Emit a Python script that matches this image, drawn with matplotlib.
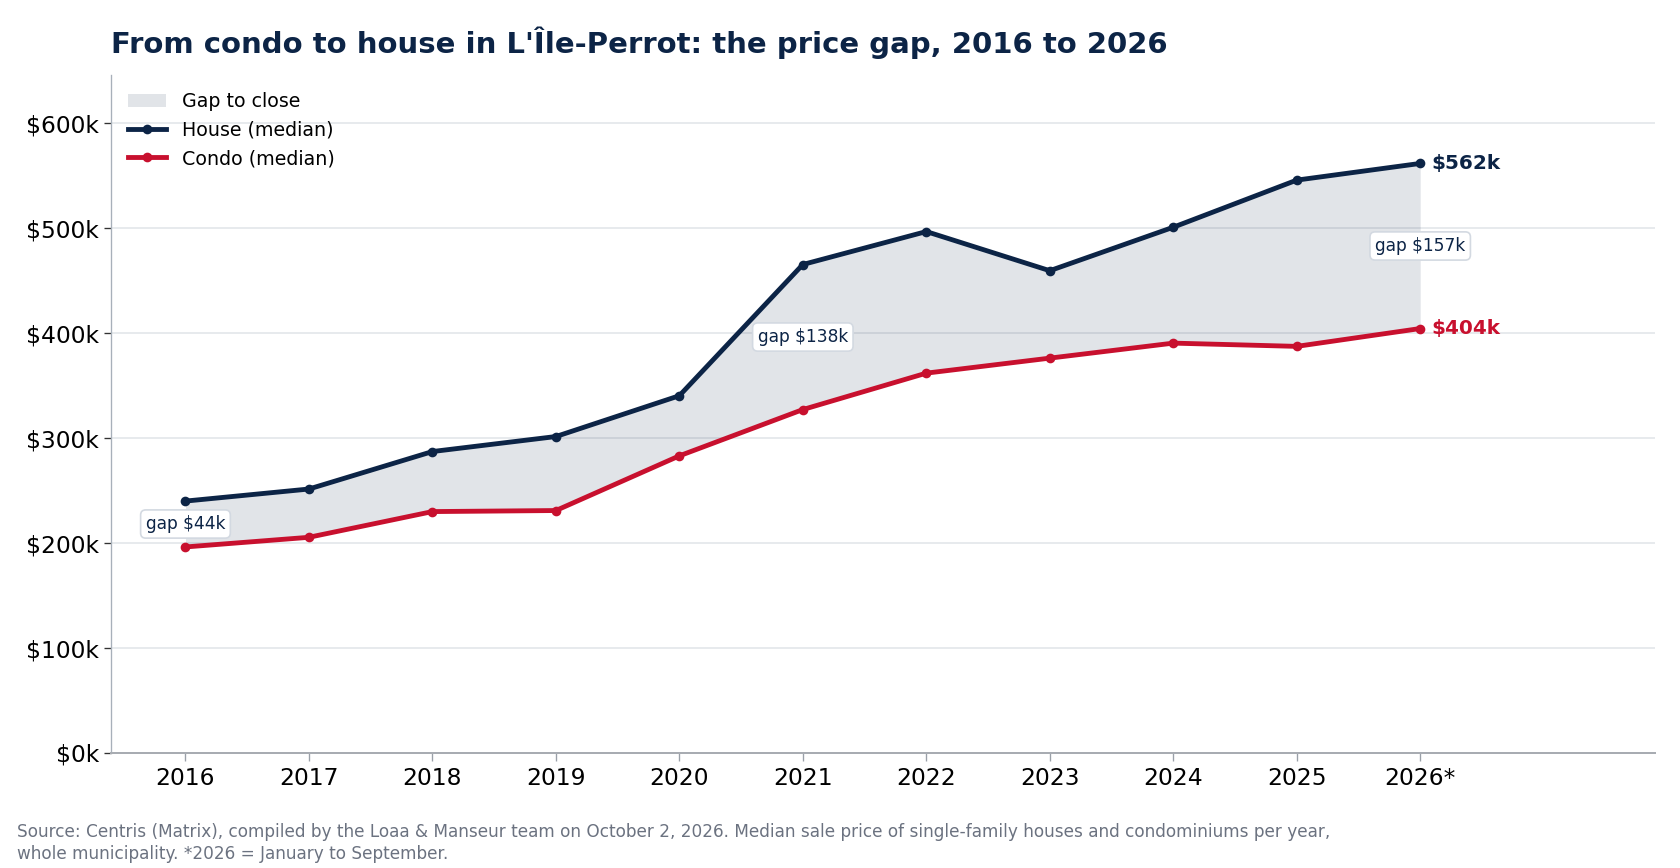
import matplotlib
matplotlib.use("Agg")
import matplotlib.pyplot as plt
from matplotlib.patches import Patch
from matplotlib.lines import Line2D
from matplotlib.ticker import FuncFormatter, MultipleLocator

years = ["2016", "2017", "2018", "2019", "2020", "2021", "2022", "2023", "2024", "2025", "2026*"]
house = [240000, 251500, 287200, 301500, 340400, 465400, 496800, 459500, 500900, 545800, 561700]
condo = [196300, 205500, 230000, 231000, 283100, 327200, 361900, 376200, 390500, 387400, 404400]
gap_label_idx = [0, 5, 10]

NAVY = "#0c2446"
RED = "#c8102e"
GREY_TXT = "#6b7280"
LW = 2.9

fig = plt.figure(figsize=(14, 868 / 120), dpi=120)
ax = fig.add_axes([0.0663, 0.1325, 0.9187, 0.7811])

x = list(range(len(years)))
ax.fill_between(x, condo, house, color=NAVY, alpha=0.12, linewidth=0, zorder=1)
ax.plot(x, house, color=NAVY, lw=LW, marker="o", ms=4.8, zorder=3, solid_capstyle="round")
ax.plot(x, condo, color=RED, lw=LW, marker="o", ms=4.8, zorder=3, solid_capstyle="round")

for i in gap_label_idx:
    g = house[i] - condo[i]
    ax.text(x[i], (house[i] + condo[i]) / 2, f"gap ${g/1000:.0f}k", ha="center", va="center",
            fontsize=10.2, color=NAVY, zorder=4,
            bbox=dict(boxstyle="round,pad=0.3", fc="white", ec="#d3d9e1", lw=1))

ax.annotate(f"${house[-1]/1000:.0f}k", (x[-1], house[-1]), xytext=(7, 0), textcoords="offset points",
            ha="left", va="center", fontsize=12, fontweight="bold", color=NAVY)
ax.annotate(f"${condo[-1]/1000:.0f}k", (x[-1], condo[-1]), xytext=(7, 0), textcoords="offset points",
            ha="left", va="center", fontsize=12, fontweight="bold", color=RED)

ax.set_xlim(-0.6, 11.9)
ax.set_ylim(0, max(house) * 1.15)
ax.set_xticks(x)
ax.set_xticklabels(years)
ax.yaxis.set_major_locator(MultipleLocator(100000))
ax.yaxis.set_major_formatter(FuncFormatter(lambda v, p: f"${v/1000:.0f}k"))
ax.tick_params(axis="both", labelsize=14, colors="black")
ax.tick_params(axis="x", color="#9aa0a8", length=5)
ax.tick_params(axis="y", color="#333333", length=4)
ax.grid(axis="y", color="#e3e6ea", lw=1, zorder=0)
ax.set_axisbelow(True)
for s in ["top", "right"]:
    ax.spines[s].set_visible(False)
ax.spines["left"].set_color("#a8b0ba")
ax.spines["bottom"].set_color("#a8acb2")
ax.spines["bottom"].set_linewidth(1.2)

handles = [
    Patch(facecolor=NAVY, alpha=0.12, edgecolor="none", label="Gap to close"),
    Line2D([0], [0], color=NAVY, lw=LW, marker="o", ms=4.8, label="House (median)"),
    Line2D([0], [0], color=RED, lw=LW, marker="o", ms=4.8, label="Condo (median)"),
]
ax.legend(handles=handles, loc="upper left", frameon=False, fontsize=11.4, bbox_to_anchor=(0.0, 1.0))

fig.text(111 / 1680, 1 - 43 / 868, "From condo to house in L'Île-Perrot: the price gap, 2016 to 2026",
         fontsize=17.5, fontweight="bold", color=NAVY, ha="left", va="center")
fig.text(17 / 1680, 1 - 843 / 868,
         "Source: Centris (Matrix), compiled by the Loaa & Manseur team on October 2, 2026. Median sale price of single-family houses and condominiums per year,\nwhole municipality. *2026 = January to September.",
         fontsize=10.15, color=GREY_TXT, ha="left", va="center", linespacing=1.25)

fig.savefig("out.png", dpi=120)
